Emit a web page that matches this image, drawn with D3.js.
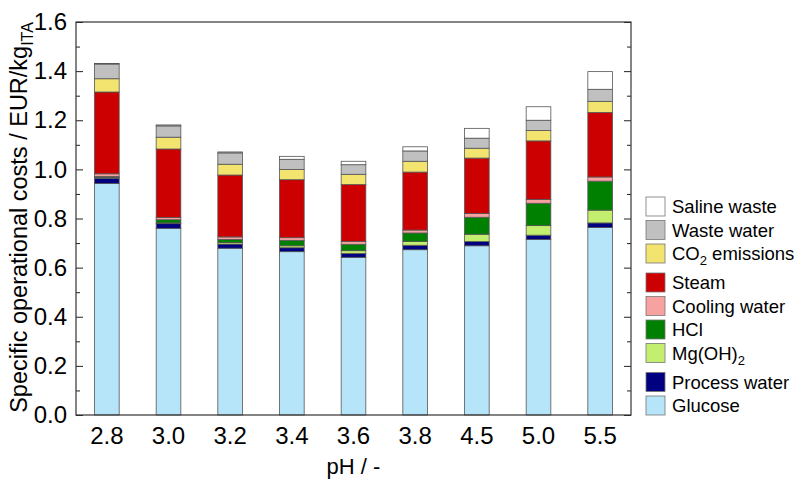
<!DOCTYPE html>
<html>
<head>
<meta charset="utf-8">
<script src="https://cdn.jsdelivr.net/npm/d3@7"></script>
<style>
  body { margin: 0; background: #fff; }
  svg { font-family: "Liberation Sans", Arial, sans-serif; }
</style>
</head>
<body>
<div id="chart"></div>
<script>
// categories (pH)
const phLabels = ['2.8', '3.0', '3.2', '3.4', '3.6', '3.8', '4.5', '5.0', '5.5'];

// cost components, bottom to top (EUR/kg ITA)
const glucose      = [0.943, 0.760, 0.679, 0.665, 0.642, 0.673, 0.689, 0.715, 0.763];
const processWater = [0.021, 0.019, 0.017, 0.016, 0.016, 0.018, 0.017, 0.017, 0.019];
const mgOH2        = [0.003, 0.003, 0.006, 0.008, 0.011, 0.015, 0.030, 0.039, 0.052];
const hcl          = [0.004, 0.013, 0.013, 0.022, 0.026, 0.035, 0.069, 0.091, 0.118];
const coolingWater = [0.011, 0.009, 0.010, 0.011, 0.012, 0.012, 0.015, 0.016, 0.017];
const steam        = [0.333, 0.279, 0.252, 0.236, 0.231, 0.236, 0.226, 0.238, 0.263];
const co2          = [0.054, 0.048, 0.044, 0.042, 0.042, 0.044, 0.040, 0.042, 0.045];
const wasteWater   = [0.060, 0.046, 0.046, 0.041, 0.039, 0.042, 0.041, 0.042, 0.049];
const salineWaste  = [0.002, 0.004, 0.004, 0.012, 0.014, 0.017, 0.040, 0.055, 0.072];

const yTicks = [0.0, 0.2, 0.4, 0.6, 0.8, 1.0, 1.2, 1.4, 1.6];

const series = [
  { key: 'glucose', label: ['Glucose'], color: '#b6e5fa', values: glucose },
  { key: 'process', label: ['Process water'], color: '#000080', values: processWater },
  { key: 'mg', label: ['Mg(OH)', '2'], color: '#c4ee70', values: mgOH2 },
  { key: 'hcl', label: ['HCl'], color: '#008000', values: hcl },
  { key: 'cooling', label: ['Cooling water'], color: '#f7a1a1', values: coolingWater },
  { key: 'steam', label: ['Steam'], color: '#cc0000', values: steam },
  { key: 'co2', label: ['CO', '2', ' emissions'], color: '#f2e46e', values: co2 },
  { key: 'waste', label: ['Waste water'], color: '#c0c0c0', values: wasteWater },
  { key: 'saline', label: ['Saline waste'], color: '#ffffff', values: salineWaste }
];

const width = 797, height = 482;
const margin = { top: 22, right: 166, bottom: 67, left: 76 };

const rows = phLabels.map((ph, i) => {
  const r = { ph: ph };
  series.forEach(s => { r[s.key] = s.values[i]; });
  return r;
});

const stacked = d3.stack().keys(series.map(s => s.key))(rows);

const svg = d3.select('#chart').append('svg')
  .attr('width', width)
  .attr('height', height);

const x = d3.scaleBand()
  .domain(phLabels)
  .range([margin.left, width - margin.right])
  .paddingInner(0.6)
  .paddingOuter(0.3);

const y = d3.scaleLinear()
  .domain([0, 1.6])
  .range([height - margin.bottom, margin.top]);

// bars
svg.append('g').selectAll('g')
  .data(stacked)
  .enter().append('g')
  .attr('fill', (d, i) => series[i].color)
  .selectAll('rect')
  .data(d => d)
  .enter().append('rect')
  .attr('x', d => x(d.data.ph))
  .attr('y', d => y(d[1]))
  .attr('width', x.bandwidth())
  .attr('height', d => y(d[0]) - y(d[1]))
  .attr('stroke', '#555')
  .attr('stroke-width', 0.8);

// left axis, ticks inside
const minorTicks = d3.range(0.1, 1.6, 0.2);
svg.append('g')
  .attr('transform', `translate(${margin.left},0)`)
  .call(d3.axisLeft(y).tickValues(yTicks).tickFormat(d3.format('.1f')).tickSize(-7).tickPadding(9))
  .call(g => g.select('.domain').remove())
  .call(g => g.selectAll('line').attr('stroke', '#222'))
  .call(g => g.selectAll('text').attr('font-size', 24).attr('fill', '#000'));
svg.append('g')
  .attr('transform', `translate(${margin.left},0)`)
  .call(d3.axisLeft(y).tickValues(minorTicks).tickFormat('').tickSize(-4))
  .call(g => g.select('.domain').remove())
  .call(g => g.selectAll('line').attr('stroke', '#222'));

// right axis, ticks inside, no labels
svg.append('g')
  .attr('transform', `translate(${width - margin.right},0)`)
  .call(d3.axisRight(y).tickValues(yTicks).tickFormat('').tickSize(-7))
  .call(g => g.select('.domain').remove())
  .call(g => g.selectAll('line').attr('stroke', '#222'));
svg.append('g')
  .attr('transform', `translate(${width - margin.right},0)`)
  .call(d3.axisRight(y).tickValues(minorTicks).tickFormat('').tickSize(-4))
  .call(g => g.select('.domain').remove())
  .call(g => g.selectAll('line').attr('stroke', '#222'));

// bottom axis
svg.append('g')
  .attr('transform', `translate(0,${height - margin.bottom})`)
  .call(d3.axisBottom(x).tickSize(0).tickPadding(12))
  .call(g => g.select('.domain').remove())
  .call(g => g.selectAll('text').attr('font-size', 24).attr('fill', '#000'));

// frame
svg.append('rect')
  .attr('x', margin.left)
  .attr('y', margin.top)
  .attr('width', width - margin.left - margin.right)
  .attr('height', height - margin.top - margin.bottom)
  .attr('fill', 'none')
  .attr('stroke', '#333')
  .attr('stroke-width', 1.2);

// axis titles
svg.append('text')
  .attr('x', (margin.left + width - margin.right) / 2)
  .attr('y', 474)
  .attr('text-anchor', 'middle')
  .attr('font-size', 22)
  .text('pH / -');

const yTitle = svg.append('text')
  .attr('transform', `translate(27,${(margin.top + height - margin.bottom) / 2 - 1}) rotate(-90)`)
  .attr('text-anchor', 'middle')
  .attr('font-size', 23.5);
yTitle.append('tspan').text('Specific operational costs / EUR/kg');
yTitle.append('tspan').attr('font-size', 16).attr('dy', 6).text('ITA');

// legend, top to bottom
const legend = svg.append('g');
let ly = 197;
series.slice().reverse().forEach(s => {
  const g = legend.append('g').attr('transform', `translate(646,${ly})`);
  g.append('rect')
    .attr('width', 19)
    .attr('height', 19)
    .attr('fill', s.color)
    .attr('stroke', '#777')
    .attr('stroke-width', 0.8);
  const t = g.append('text')
    .attr('x', 26)
    .attr('y', 16)
    .attr('font-size', 18.5);
  t.append('tspan').text(s.label[0]);
  if (s.label.length > 1) {
    t.append('tspan').attr('font-size', 13).attr('dy', 5).text(s.label[1]);
    if (s.label[2]) t.append('tspan').attr('dy', -5).text(s.label[2]);
  }
  ly += s.label.length > 1 ? 29 : 23.5;
});
</script>
</body>
</html>
